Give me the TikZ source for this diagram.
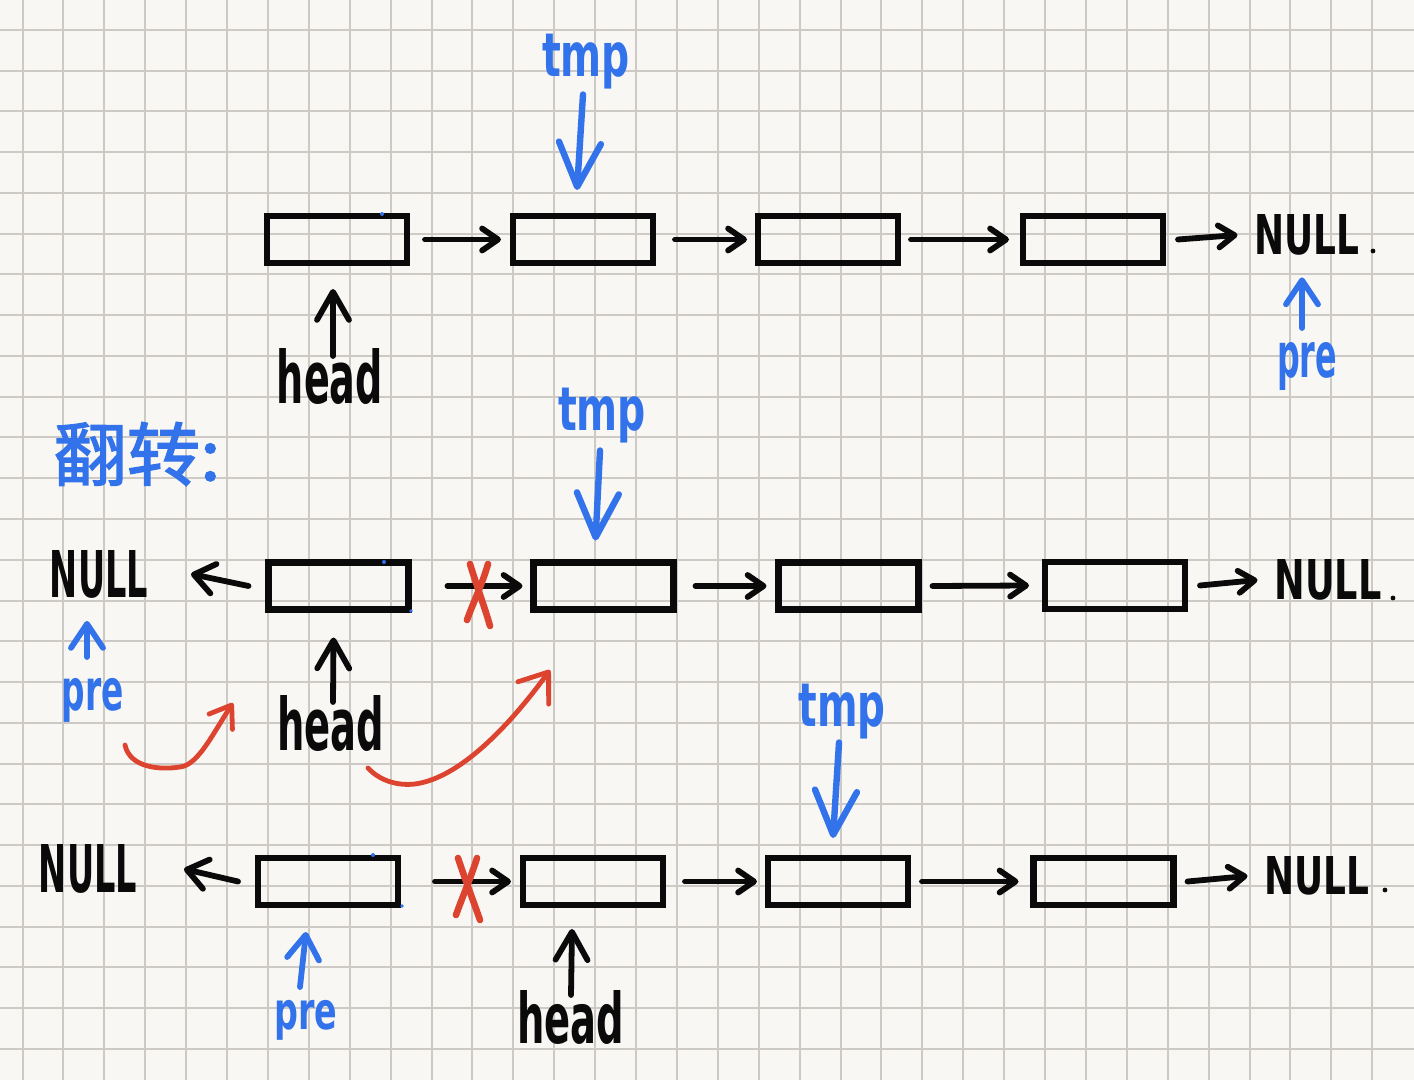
\documentclass[tikz,border=0pt]{standalone}
\usepackage{fontspec}
\usepackage{graphicx}
\setmainfont{DejaVu Sans}
\newfontfamily\cjkb{Noto Sans CJK SC}[FakeBold=2]
\usetikzlibrary{arrows.meta,calc}
\definecolor{paper}{HTML}{F8F7F3}
\definecolor{gridc}{HTML}{CDCAC5}
\definecolor{pen}{HTML}{0A0A0A}
\definecolor{bluepen}{HTML}{3272EA}
\definecolor{redpen}{HTML}{DC4430}
\tikzset{
  gridline/.style={draw=gridc, line width=1pt},
  listbox/.style={draw=pen, line width=3.1pt, minimum width=70pt, minimum height=23.5pt, inner sep=0pt, outer sep=0pt},
  lbl/.style={inner sep=0pt, outer sep=0pt},
  blk/.style={lbl, text=pen, font=\bfseries},
  blu/.style={lbl, text=bluepen, font=\bfseries},
  link/.style={draw=pen, line width=2.9pt, line cap=round, -{Straight Barb[round,length=8pt,width=11pt]}},
  backlink/.style={draw=pen, line width=2.9pt, line cap=round, -{Straight Barb[round,length=10pt,width=15pt]}},
  headptr/.style={draw=pen, line width=2.9pt, line cap=round, -{Straight Barb[round,length=14pt,width=16pt]}},
  preptr/.style={draw=bluepen, line width=2.9pt, line cap=round, -{Straight Barb[round,length=12pt,width=16pt]}},
  tmpptr/.style={draw=bluepen, line width=3.2pt, line cap=round, -{Straight Barb[round,length=22pt,width=21pt]}},
  cross/.style={draw=redpen, line width=3.3pt, line cap=round},
  movecurve/.style={draw=redpen, line width=2.4pt, line cap=round},
  enddot/.style={fill=pen},
  bluedot/.style={fill=bluepen}
}
\begin{document}
\begin{tikzpicture}[x=0.5pt,y=-0.5pt]
\fill[paper] (0,0) rectangle (1414,1080);
\useasboundingbox (0,0) rectangle (1414,1080);
\foreach \i in {0,...,33} \draw[gridline] ({22.5+40.9*\i},0) -- ({22.5+40.9*\i},1080);
\foreach \j in {0,...,25} \draw[gridline] (0,{30+40.75*\j}) -- (1414,{30+40.75*\j});

% ---------- Row 1 ----------
\node[listbox] (b11) at (337,239.5) {};
\node[listbox] (b12) at (583,239.5) {};
\node[listbox] (b13) at (828,239.5) {};
\node[listbox] (b14) at (1093,239.5) {};
\node[blk] (null1) at (1307,235) {\resizebox{52.5pt}{20pt}{NULL}};
\fill[enddot] (1373,251) circle (2.4);
\draw[link] ([xshift=9pt]b11.east) -- ([xshift=-6pt]b12.west);
\draw[link] ([xshift=11pt]b12.east) -- ([xshift=-5.5pt]b13.west);
\draw[link] ([xshift=6.5pt]b13.east) -- ([xshift=-7pt]b14.west);
\draw[link] ([xshift=7.5pt]b14.east) -- ([xshift=-8.5pt]null1.west);

\node[blu] (tmp1) at (586,62) {\resizebox*{44pt}{27.5pt}{tmp}};
\draw[tmpptr] ($(tmp1.south)+(-3,5)$) -- ($(b12.north)+(-6,-26)$);
\node[blk] (head1) at (330,377) {\resizebox{53pt}{27.5pt}{head}};
\draw[headptr] ($(head1.north)+(3,7)$) -- ($(b11.south)+(-4,26)$);
\node[blu] (pre1) at (1307,366) {\resizebox*{30pt}{24pt}{pre}};
\draw[preptr] ($(pre1.north)+(-5,-14)$) -- ($(null1.south)+(-5,22)$);
\fill[bluedot] (382,214) circle (2);

% ---------- Title ----------
\node[lbl, text=bluepen] (title) at (137,454) {\resizebox{83.5pt}{29pt}{\cjkb 翻转:}};

% ---------- Row 2 ----------
\node[blk] (null2l) at (99,574) {\resizebox{49pt}{23.5pt}{NULL}};
\node[listbox] (b21) at (338.5,586) {};
\node[listbox] (b22) at (603.5,586) {};
\node[listbox] (b23) at (848.5,586) {};
\node[listbox] (b24) at (1115,585.5) {};
\node[blk] (null2r) at (1328,580) {\resizebox{53.5pt}{20pt}{NULL}};
\fill[enddot] (1393,598) circle (2.4);
\draw[backlink] ([xshift=-10pt]b21.west) -- ([xshift=21.5pt]null2l.east);
\draw[link] ([xshift=19.5pt]b21.east) -- ([xshift=-5.5pt]b22.west);
\draw[link] ([xshift=11pt]b22.east) -- ([xshift=-6pt]b23.west);
\draw[link] ([xshift=7pt]b23.east) -- ([xshift=-8pt]b24.west);
\draw[link] ([xshift=7.5pt]b24.east) -- ([xshift=-8.5pt]null2r.west);
\draw[cross] (470,564) .. controls (478,590) and (485,608) .. (490,626);
\draw[cross] (488,564) .. controls (482,585) and (473,603) .. (467,620);

\node[blu] (tmp2) at (602,416) {\resizebox*{44pt}{27.5pt}{tmp}};
\draw[tmpptr] ($(tmp2.south)+(-2,7)$) -- ($(b22.north)+(-8,-22)$);
\node[blk] (head2) at (331,724) {\resizebox{53.5pt}{27.5pt}{head}};
\draw[headptr] ($(head2.north)+(2,6)$) -- ($(b21.south)+(-5,28)$);
\node[blu] (pre2) at (93,700) {\resizebox*{31pt}{22pt}{pre}};
\draw[preptr] ($(pre2.north)+(-6,-21)$) -- ($(null2l.south)+(-12,23)$);
\fill[bluedot] (384,562) circle (2);
\fill[bluedot] (411,611) circle (1.8);

\draw[movecurve, -{Straight Barb[round,length=10pt,width=14pt]}]
  (125,745) .. controls (130,768) and (160,770) .. (180,767)
  .. controls (198,765) and (212,735) .. (233,703);
\draw[movecurve, -{Straight Barb[round,length=13pt,width=19pt]}]
  (368,768) .. controls (380,781) and (398,786) .. (415,784)
  .. controls (460,778) and (510,725) .. (550,670);

% ---------- Row 3 ----------
\node[blk] (null3l) at (88,869) {\resizebox{49pt}{24pt}{NULL}};
\node[listbox] (b31) at (328,881.5) {};
\node[listbox] (b32) at (593,881.5) {};
\node[listbox] (b33) at (838,881.5) {};
\node[listbox] (b34) at (1103.5,881.5) {};
\node[blk] (null3r) at (1317,876) {\resizebox{52.5pt}{19pt}{NULL}};
\fill[enddot] (1385,890) circle (2.4);
\draw[backlink] ([xshift=-10pt]b31.west) -- ([xshift=23.5pt]null3l.east);
\draw[link] ([xshift=18.5pt]b31.east) -- ([xshift=-6pt]b32.west);
\draw[link] ([xshift=11pt]b32.east) -- ([xshift=-5.5pt]b33.west);
\draw[link] ([xshift=7pt]b33.east) -- ([xshift=-7.5pt]b34.west);
\draw[link] ([xshift=7pt]b34.east) -- ([xshift=-8.5pt]null3r.west);
\draw[cross] (458,858) .. controls (466,882) and (473,900) .. (480,920);
\draw[cross] (477,858) .. controls (470,880) and (462,898) .. (456,915);

\node[blu] (tmp3) at (842,712) {\resizebox*{43.5pt}{27.5pt}{tmp}};
\draw[tmpptr] ($(tmp3.south)+(-3,3)$) -- ($(b33.north)+(-5,-20)$);
\node[blu] (pre3) at (306,1020) {\resizebox*{31.5pt}{20pt}{pre}};
\draw[preptr] ($(pre3.north)+(-6,-13)$) -- ($(b31.south)+(-22,27)$);
\node[blk] (head3) at (571,1017) {\resizebox{53.5pt}{26.5pt}{head}};
\draw[headptr] ($(head3.north)+(0,5)$) -- ($(b32.south)+(-21,24)$);
\fill[bluedot] (373,855) circle (2);
\fill[bluedot] (402,906) circle (1.8);
\end{tikzpicture}
\end{document}
